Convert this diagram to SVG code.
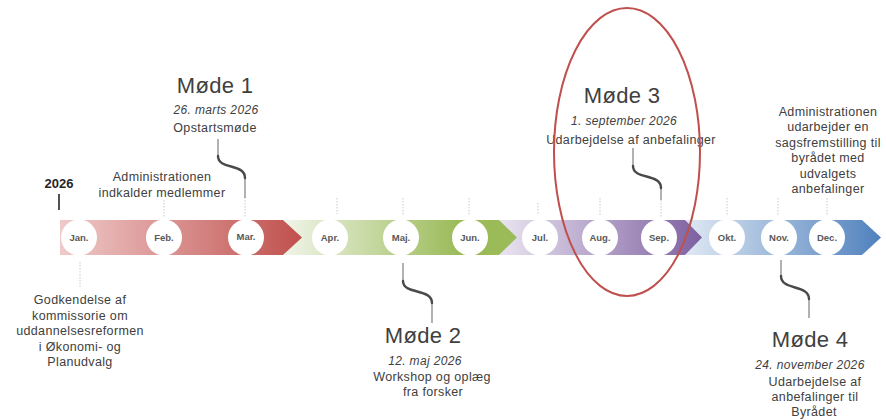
<svg xmlns="http://www.w3.org/2000/svg" width="886" height="420" viewBox="0 0 886 420">
<defs>
<linearGradient id="gRed" x1="0" y1="0" x2="1" y2="0"><stop offset="0" stop-color="#efcaca"/><stop offset="1" stop-color="#c0504d"/></linearGradient>
<linearGradient id="gGreen" x1="0" y1="0" x2="1" y2="0"><stop offset="0" stop-color="#f0f4e8"/><stop offset="0.75" stop-color="#9bbb59"/><stop offset="1" stop-color="#9bbb59"/></linearGradient>
<linearGradient id="gPurple" x1="0" y1="0" x2="1" y2="0"><stop offset="0" stop-color="#e9e4f0"/><stop offset="1" stop-color="#7d5fa0"/></linearGradient>
<linearGradient id="gBlue" x1="0" y1="0" x2="1" y2="0"><stop offset="0" stop-color="#dfe8f3"/><stop offset="1" stop-color="#4f81bd"/></linearGradient>
<style>
.t{font-family:"Liberation Sans","DejaVu Sans",sans-serif;fill:#404040;text-anchor:middle;}
.body{font-size:12.5px;letter-spacing:0.35px;}
.title{font-size:22px;letter-spacing:0.3px;}
.date{font-size:12px;font-style:italic;letter-spacing:0.35px;}
.mon{font-family:"Liberation Sans","DejaVu Sans",sans-serif;font-size:9.5px;font-weight:bold;fill:#595959;text-anchor:middle;}
.circ{fill:#ffffff;}
.tick{stroke:#c8c8c8;stroke-width:1;stroke-dasharray:1.5 1.5;fill:none;}
.lead{stroke:#7f7f7f;stroke-width:1.2;fill:none;}
.curl{stroke:#4a4a4a;stroke-width:2.4;fill:none;stroke-linecap:round;}
</style>
</defs>

<g id="band">
<path d="M686,220 L862,220 L881,237.5 L862,255 L686,255 Z" fill="url(#gBlue)"/>
<path d="M500,220 L685,220 L702,237.5 L685,255 L500,255 Z" fill="url(#gPurple)"/>
<path d="M285,220 L499,220 L517,237.5 L499,255 L285,255 Z" fill="url(#gGreen)"/>
<path d="M60,220 L283,220 L302,237.5 L283,255 L60,255 Z" fill="url(#gRed)"/>
</g>

<g id="months">
<g id="m-jan"><circle class="circ" cx="79" cy="237.5" r="18"/><text class="mon" x="79" y="241">Jan.</text></g>
<g id="m-feb"><circle class="circ" cx="164" cy="237.5" r="18"/><text class="mon" x="164" y="241">Feb.</text></g>
<g id="m-mar"><circle class="circ" cx="246" cy="237.5" r="18"/><text class="mon" x="246" y="240">Mar.</text></g>
<g id="m-apr"><circle class="circ" cx="330" cy="237.5" r="18"/><text class="mon" x="330" y="241">Apr.</text></g>
<g id="m-maj"><circle class="circ" cx="401" cy="237.5" r="18"/><text class="mon" x="401" y="241">Maj.</text></g>
<g id="m-jun"><circle class="circ" cx="470" cy="237.5" r="18"/><text class="mon" x="470" y="241">Jun.</text></g>
<g id="m-jul"><circle class="circ" cx="540" cy="237.5" r="18"/><text class="mon" x="540" y="241">Jul.</text></g>
<g id="m-aug"><circle class="circ" cx="600" cy="237.5" r="18"/><text class="mon" x="600" y="241">Aug.</text></g>
<g id="m-sep"><circle class="circ" cx="659" cy="237.5" r="18"/><text class="mon" x="659" y="241">Sep.</text></g>
<g id="m-okt"><circle class="circ" cx="727" cy="237.5" r="18"/><text class="mon" x="727" y="241">Okt.</text></g>
<g id="m-nov"><circle class="circ" cx="779" cy="237.5" r="18"/><text class="mon" x="779" y="241">Nov.</text></g>
<g id="m-dec"><circle class="circ" cx="827" cy="237.5" r="18"/><text class="mon" x="827" y="241">Dec.</text></g>
</g>

<g id="connectors">
<path class="tick" d="M164,200 V217"/>
<path class="tick" d="M245,197 V217"/>
<path class="tick" d="M337,198 V214"/>
<path class="tick" d="M403,198 V215"/>
<path class="tick" d="M469,198 V215"/>
<path class="tick" d="M538,203 V215"/>
<path class="tick" d="M600,198 V215"/>
<path class="tick" d="M661,200 V217"/>
<path class="tick" d="M727,198 V215"/>
<path class="tick" d="M778,198 V215"/>
<path class="tick" d="M827,198 V215"/>
<path class="tick" d="M80,262 V287"/>
<path d="M59,194 V210" stroke="#262626" stroke-width="1.6" fill="none"/>
<path class="lead" d="M218,139 V156 M245,178 V198"/>
<path class="curl" d="M218,156 C218,170 245,163 245,178"/>
<path class="lead" d="M403,263 V281 M432,303 V323"/>
<path class="curl" d="M403,281 C403,295 432,288 432,303"/>
<path class="lead" d="M633,148 V166 M661,188 V200"/>
<path class="curl" d="M633,166 C633,180 661,173 661,188"/>
<path class="lead" d="M781,260 V276 M809,299 V318"/>
<path class="curl" d="M781,276 C781,291 809,284 809,299"/>
</g>

<g id="year"><text class="t" x="59" y="188" style="font-size:13px;font-weight:bold;fill:#262626">2026</text></g>

<g id="moede1">
<text class="t title" x="215" y="93">Møde 1</text>
<text class="t date" x="216" y="114">26. marts 2026</text>
<text class="t body" x="215" y="132">Opstartsmøde</text>
</g>

<g id="indkald">
<text class="t body" x="162" y="181">Administrationen</text>
<text class="t body" x="162" y="197">indkalder medlemmer</text>
</g>

<g id="godkend">
<text class="t body" x="80" y="304">Godkendelse af</text>
<text class="t body" x="80" y="320">kommissorie om</text>
<text class="t body" x="80" y="335">uddannelsesreformen</text>
<text class="t body" x="80" y="351">i Økonomi- og</text>
<text class="t body" x="80" y="366">Planudvalg</text>
</g>

<g id="moede2">
<text class="t title" x="423" y="343">Møde 2</text>
<text class="t date" x="425" y="365">12. maj 2026</text>
<text class="t body" x="432" y="381">Workshop og oplæg</text>
<text class="t body" x="433" y="396">fra forsker</text>
</g>

<g id="moede3">
<text class="t title" x="622" y="103">Møde 3</text>
<text class="t date" x="624" y="125">1. september 2026</text>
<text class="t body" x="631" y="144">Udarbejdelse af anbefalinger</text>
</g>

<g id="sagsfrem">
<text class="t body" x="828" y="116">Administrationen</text>
<text class="t body" x="828" y="131">udarbejder en</text>
<text class="t body" x="828" y="147">sagsfremstilling til</text>
<text class="t body" x="828" y="162">byrådet med</text>
<text class="t body" x="828" y="178">udvalgets</text>
<text class="t body" x="828" y="193">anbefalinger</text>
</g>

<g id="moede4">
<text class="t title" x="810" y="347">Møde 4</text>
<text class="t date" x="810" y="369">24. november 2026</text>
<text class="t body" x="815" y="386">Udarbejdelse af</text>
<text class="t body" x="815" y="401">anbefalinger til</text>
<text class="t body" x="814" y="416">Byrådet</text>
</g>

<g id="highlight">
<ellipse cx="627" cy="152" rx="73" ry="144" fill="none" stroke="#c0504d" stroke-width="2"/>
</g>
</svg>
